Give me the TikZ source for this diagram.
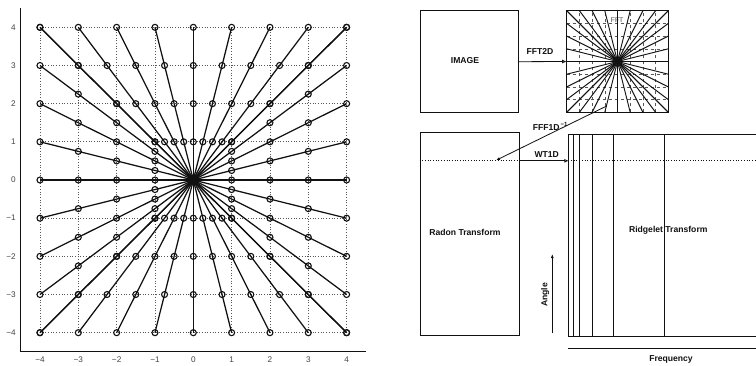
\documentclass[tikz,border=0pt]{standalone}
\usepackage{fontspec}
\setmainfont{Liberation Sans}
\usetikzlibrary{arrows.meta}
\definecolor{rgink}{HTML}{111111}
\definecolor{rggrid}{HTML}{555555}
\definecolor{rgtick}{HTML}{444444}
\tikzset{
  panel/.style={rectangle,draw=rgink,line width=1pt,inner sep=0pt},
  tag/.style={font=\fontsize{8.6}{10}\selectfont\bfseries,text=rgink,inner sep=1pt},
  ticklab/.style={font=\fontsize{8.2}{10}\selectfont,text=rgtick,inner sep=0pt},
  ray/.style={draw=rgink,line width=1.25pt},
  sample/.style={draw=rgink,line width=1.1pt},
  griddot/.style={draw=rggrid,line width=.7pt,dotted},
  minigrid/.style={draw=rggrid,line width=.55pt,dashed},
  miniray/.style={draw=rgink,line width=.95pt},
  band/.style={draw=rgink,line width=.6pt},
  flow/.style={-{Triangle[open,length=4pt,width=3.4pt]},draw=rgink,line width=.8pt},
  back/.style={-{Latex[length=4pt,width=3pt]},draw=rgink,line width=.8pt},
}

\begin{document}
\begin{tikzpicture}[x=1pt,y=-1pt]
  \useasboundingbox[fill=white] (0,0) rectangle (756,365);
  \begin{scope}[xshift=193.3pt,yshift=-180pt,x=38.33pt,y=38.17pt]
    \foreach \k in {-4,...,4} {
      \draw[griddot] (-4,\k) -- (4,\k);
      \draw[griddot] (\k,-4) -- (\k,4);
    }
    \foreach \k in {-4,...,4} {
      \foreach \bx/\by in {4/\k,-4/\k,\k/4,\k/-4} {
        \draw[ray] (0,0) -- (\bx,\by);
        \foreach \t in {1,2,3,4}
          \draw[sample] ({\t*\bx/4},{\t*\by/4}) circle[radius=3pt];
      }
    }
    \fill[rgink] (0,0) circle[radius=5.5pt];
    \draw[line width=1pt,draw=rgink] (-4.5,4.5) -- (-4.5,-4.5) -- (4.5,-4.5);
    \foreach \k/\s in {-4/−4,-3/−3,-2/−2,-1/−1,0/0,1/1,2/2,3/3,4/4} {
      \node[ticklab,anchor=east] (ylab\k) at (-4.63,\k) {\s};
      \node[ticklab] (xlab\k) at (\k,-4.71) {\s};
    }
  \end{scope}

  \node[panel,minimum width=98.3pt,minimum height=102pt] (img) at (469.2,61.7) {};
  \node[tag] (imglab) at (465,61) {IMAGE};
  \node[font=\fontsize{7}{8}\selectfont\bfseries,text=rggrid!70] (fftlab) at (617,20) {FFT};
  \begin{scope}[xshift=617.5pt,yshift=-61.5pt,x=12.7pt,y=12.7pt]
    \clip (-4,-4) rectangle (4,4);
    \foreach \k in {-3,...,3} {
      \draw[minigrid] (-4,\k) -- (4,\k);
      \draw[minigrid] (\k,-4) -- (\k,4);
    }
    \foreach \k in {-4,...,4}
      \foreach \bx/\by in {4/\k,-4/\k,\k/4,\k/-4}
        \draw[miniray] (0,0) -- (\bx,\by);
    \fill[rgink] (0,0) circle[radius=2.5pt];
  \end{scope}
  \node[panel,minimum width=101.6pt,minimum height=101.6pt] (fft) at (617.5,61.5) {};
  \draw[flow] (img.east) -- (fft.west);
  \node[tag] (fft2d) at (540,51.7) {FFT2D};

  \node[panel,minimum width=99pt,minimum height=202.6pt] (radon) at (469.5,234) {};
  \node[tag] (radonlab) at (465,232.7) {Radon Transform};
  \draw[griddot,draw=rgink] (radon.west |- 0,160.8) -- (radon.east |- 0,160.8);

  \draw[line width=1pt,draw=rgink] (756,134.3) -| (568.3,336) -- (756,336);
  \foreach \xv in {573.3,579.3,592,613.3}
    \draw[band] (\xv,134.3) -- (\xv,336);
  \draw[line width=1pt,draw=rgink] (664.3,134.3) -- (664.3,336);
  \draw[griddot,draw=rgink] (568.3,160.8) -- (756,160.8);
  \node[tag] (ridge) at (668.3,230.7) {Ridgelet Transform};

  \coordinate (ridgeW) at (568.3,160.8);
  \coordinate (slice) at (496,160.3);
  \coordinate (fftout) at (606.7,106);
  \draw[flow] (radon.east |- ridgeW) -- (ridgeW);
  \node[tag] (wt1d) at (546.7,154.3) {WT1D};
  \draw[back] (fftout) -- (slice);
  \node[tag,anchor=west] (fff1d) at (531.7,126.7) {FFF1D\textsuperscript{\,−1}};

  \coordinate (angfoot) at (552.3,333.3);
  \coordinate (anghead) at (552.3,254);
  \draw[back,line width=.9pt] (angfoot) -- (anghead);
  \node[tag,rotate=90] (angle) at (545.2,295) {Angle};

  \coordinate (fq0) at (568.3,348.3);
  \coordinate (fq1) at (756,348.3);
  \draw[line width=1.1pt,draw=rgink] (fq0) -- (fq1);
  \node[tag] (freq) at (671,359.3) {Frequency};
\end{tikzpicture}
\end{document}
